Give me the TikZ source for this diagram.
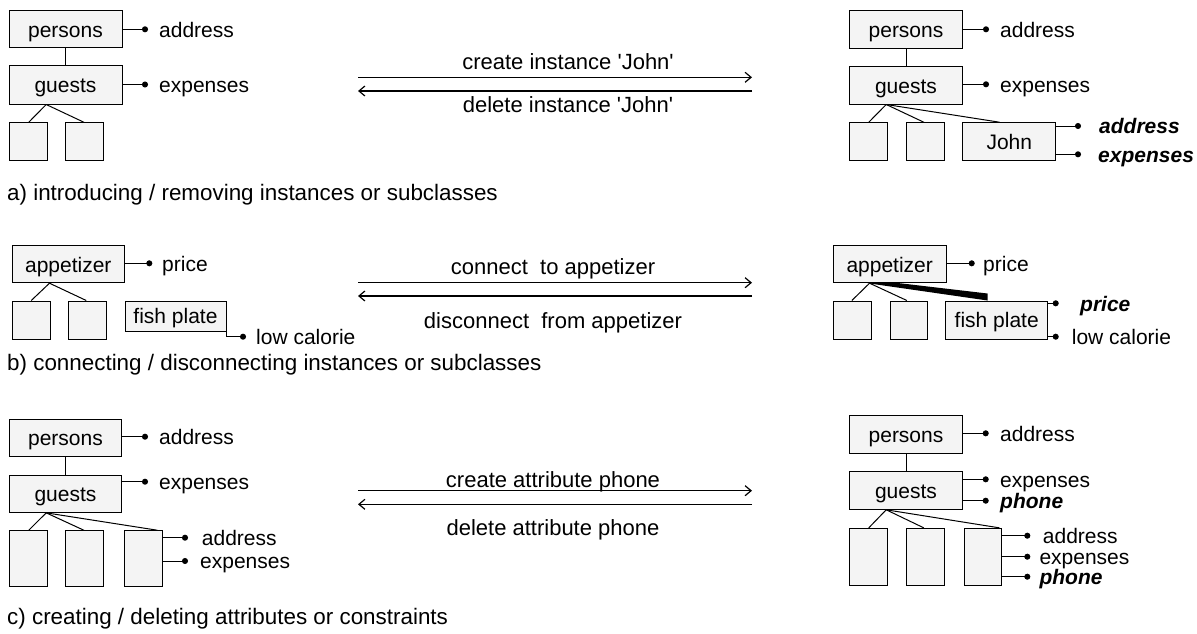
\documentclass[tikz,border=0pt]{standalone}
\usepackage{fontspec}
\setmainfont{Liberation Sans}
\usetikzlibrary{arrows.meta}
\definecolor{boxgray}{RGB}{244,244,244}
\newcommand{\lblfont}{\fontsize{21}{25}\selectfont}
\newcommand{\opfont}{\fontsize{22}{26}\selectfont}
\newcommand{\capfont}{\fontsize{22.4}{27}\selectfont}
\tikzset{
  box/.style={draw, fill=boxgray, line width=1pt, inner sep=0pt,
    text height=18pt, text depth=2.4pt, font=\lblfont},
  lbl/.style={anchor=west, inner sep=0pt, text height=18pt, text depth=2.4pt, font=\lblfont},
  newlbl/.style={lbl, font=\lblfont\bfseries\itshape},
  optext/.style={anchor=mid, inner sep=0pt, font=\opfont},
  captext/.style={anchor=mid west, inner sep=0pt, font=\capfont},
  link/.style={draw, line width=1pt},
  attr/.style={draw, line width=1pt, -{Circle[length=6pt]}},
  op/.style={draw, line width=1.2pt, -{Straight Barb[length=6pt,width=10pt,line width=1.2pt]}},
}
\begin{document}
\lblfont
\begin{tikzpicture}[x=1pt, y=-1pt]
\useasboundingbox (0,0) rectangle (1197,634);

% ---------- a) instances: before ----------
\node[box, minimum width=113pt, minimum height=37pt] (pa1) at (65.5,29.5) {persons};
\node[box, minimum width=113pt, minimum height=38pt] (ga1) at (65.5,85) {guests};
\node[box, minimum width=38pt, minimum height=38pt] (sa1) at (28.3,141.7) {};
\node[box, minimum width=37.6pt, minimum height=38pt] (sa2) at (84.5,141.7) {};
\node[lbl] (la1) at (159,29.3) {address};
\node[lbl] (la2) at (159,84.5) {expenses};
\draw[link] (pa1) -- (ga1);
\draw[link] ([xshift=37.7pt]ga1.south west) -- ([xshift=20pt]sa1.north west);
\draw[link] ([xshift=37.7pt]ga1.south west) -- ([xshift=18.6pt]sa2.north west);
\draw[attr] (pa1.east |- la1.west) -- ([xshift=-11pt]la1.west);
\draw[attr] (ga1.east |- la2.west) -- ([xshift=-11pt]la2.west);

% ---------- a) instances: after ----------
\node[box, minimum width=113.4pt, minimum height=38pt] (pa2) at (906,30) {persons};
\node[box, minimum width=113.4pt, minimum height=37.4pt] (ga2) at (906,85.3) {guests};
\node[box, minimum width=38.4pt, minimum height=38pt] (sb1) at (868.5,141.7) {};
\node[box, minimum width=38pt, minimum height=38pt] (sb2) at (925,141.7) {};
\node[box, minimum width=93.3pt, minimum height=38pt] (john) at (1009.3,141.7) {John};
\node[lbl] (lb1) at (1000,29.3) {address};
\node[lbl] (lb2) at (1000,84.3) {expenses};
\node[newlbl] (lb3) at (1099,126) {address};
\node[newlbl] (lb4) at (1098,154.3) {expenses};
\draw[link] (pa2) -- (ga2);
\draw[link] ([xshift=37.4pt]ga2.south west) -- ([xshift=20pt]sb1.north west);
\draw[link] ([xshift=37.4pt]ga2.south west) -- ([xshift=18.3pt]sb2.north west);
\draw[link] ([xshift=37.4pt]ga2.south west) -- ([xshift=37.3pt]john.north west);
\draw[attr] (pa2.east |- lb1.west) -- ([xshift=-11pt]lb1.west);
\draw[attr] (ga2.east |- lb2.west) -- ([xshift=-11pt]lb2.west);
\draw[attr] (john.east |- lb3.west) -- ([xshift=-18pt]lb3.west);
\draw[attr] (john.east |- lb4.west) -- ([xshift=-17pt]lb4.west);

% ---------- a) operations ----------
\coordinate (a1l) at (358,77.3);  \coordinate (a1r) at (752,77.3);
\coordinate (a2l) at (358,91);    \coordinate (a2r) at (752,91);
\node[optext] (ta1) at (568,63.5) {create instance \textquotesingle John\textquotesingle};
\node[optext] (ta2) at (568,106.5) {delete instance \textquotesingle John\textquotesingle};
\draw[op] (a1l) -- (a1r);
\draw[op] (a2r) -- (a2l);
\node[captext] (capa) at (7,195) {a) introducing / removing instances or subclasses};

% ---------- b) connecting: before ----------
\node[box, minimum width=112pt, minimum height=37pt] (ap1) at (68.3,264.2) {appetizer};
\node[box, minimum width=37.7pt, minimum height=38pt] (sc1) at (31.2,320) {};
\node[box, minimum width=37.7pt, minimum height=38pt] (sc2) at (87.2,320) {};
\node[box, minimum width=101pt, minimum height=30pt] (fp1) at (175.5,316) {fish plate};
\node[lbl] (lc1) at (162,263.3) {price};
\node[lbl] (lc2) at (256,336.7) {low calorie};
\draw[link] ([xshift=37.7pt]ap1.south west) -- ([xshift=19.4pt]sc1.north west);
\draw[link] ([xshift=37.7pt]ap1.south west) -- ([xshift=18.4pt]sc2.north west);
\draw[attr] (ap1.east |- lc1.west) -- ([xshift=-9.7pt]lc1.west);
\draw[attr] (fp1.south east) |- ([xshift=-10pt]lc2.west);

% ---------- b) connecting: after ----------
\node[box, minimum width=112.7pt, minimum height=37pt] (ap2) at (889.7,264.2) {appetizer};
\node[box, minimum width=37.7pt, minimum height=38pt] (sd1) at (852.2,320) {};
\node[box, minimum width=37.3pt, minimum height=38pt] (sd2) at (908.7,320) {};
\node[box, minimum width=102pt, minimum height=38pt] (fp2) at (996.7,320) {fish plate};
\node[lbl] (ld1) at (983,263.3) {price};
\node[newlbl] (ld2) at (1080,303.3) {price};
\node[lbl] (ld3) at (1071.7,336.7) {low calorie};
\draw[link] ([xshift=36.7pt]ap2.south west) -- ([xshift=19pt]sd1.north west);
\draw[link] ([xshift=36.7pt]ap2.south west) -- ([xshift=17.3pt]sd2.north west);
\fill ([xshift=34.7pt]ap2.south west) -- ([xshift=66.7pt]ap2.south west)
   -- ([xshift=42.3pt,yshift=7pt]fp2.north west) -- ([xshift=42.3pt]fp2.north west) -- cycle;
\draw[attr] (ap2.east |- ld1.west) -- ([xshift=-8.3pt]ld1.west);
\draw[attr] (fp2.east |- ld2.west) -- ([xshift=-21.3pt]ld2.west);
\draw[attr] (fp2.east |- ld3.west) -- ([xshift=-13pt]ld3.west);

% ---------- b) operations ----------
\coordinate (b1l) at (358,282.7); \coordinate (b1r) at (752,282.7);
\coordinate (b2l) at (358,296);   \coordinate (b2r) at (752,296);
\node[optext] (tb1) at (553,269) {connect\ \ to appetizer};
\node[optext] (tb2) at (553,323) {disconnect\ \ from appetizer};
\draw[op] (b1l) -- (b1r);
\draw[op] (b2r) -- (b2l);
\node[captext] (capb) at (7,365) {b) connecting / disconnecting instances or subclasses};

% ---------- c) attributes: before ----------
\node[box, minimum width=112.4pt, minimum height=37pt] (pe1) at (65.5,437.5) {persons};
\node[box, minimum width=112.4pt, minimum height=37.3pt] (ge1) at (65.5,493.7) {guests};
\node[box, minimum width=38pt, minimum height=56pt] (se1) at (28.3,558.7) {};
\node[box, minimum width=37.6pt, minimum height=56pt] (se2) at (84.5,558.7) {};
\node[box, minimum width=38pt, minimum height=56pt] (se3) at (143.3,558.7) {};
\node[lbl] (le1) at (159,436.7) {address};
\node[lbl] (le2) at (159,481.7) {expenses};
\node[lbl] (le3) at (201.7,537.7) {address};
\node[lbl] (le4) at (200,561) {expenses};
\draw[link] (pe1) -- (ge1);
\draw[link] ([xshift=37.4pt]ge1.south west) -- ([xshift=20pt]se1.north west);
\draw[link] ([xshift=37.4pt]ge1.south west) -- ([xshift=18.6pt]se2.north west);
\draw[link] ([xshift=37.4pt]ge1.south west) -- ([xshift=33.4pt]se3.north west);
\draw[attr] (pe1.east |- le1.west) -- ([xshift=-11pt]le1.west);
\draw[attr] (ge1.east |- le2.west) -- ([xshift=-11pt]le2.west);
\draw[attr] (se3.east |- le3.west) -- ([xshift=-13.7pt]le3.west);
\draw[attr] (se3.east |- le4.west) -- ([xshift=-12pt]le4.west);

% ---------- c) attributes: after ----------
\node[box, minimum width=113.4pt, minimum height=37.6pt] (pf) at (906,434.5) {persons};
\node[box, minimum width=113.4pt, minimum height=37.6pt] (gf) at (906,490.5) {guests};
\node[box, minimum width=37.7pt, minimum height=56.7pt] (sf1) at (868.8,556.7) {};
\node[box, minimum width=38pt, minimum height=56.7pt] (sf2) at (925,556.7) {};
\node[box, minimum width=36.7pt, minimum height=56.7pt] (sf3) at (983.3,556.7) {};
\node[lbl] (lf1) at (1000,433.3) {address};
\node[lbl] (lf2) at (1000,479.3) {expenses};
\node[newlbl] (lf3) at (1000,500.7) {phone};
\node[lbl] (lf4) at (1042.7,535.7) {address};
\node[lbl] (lf5) at (1039.3,556.7) {expenses};
\node[newlbl] (lf6) at (1039.3,576.7) {phone};
\draw[link] (pf) -- (gf);
\draw[link] ([xshift=37.4pt]gf.south west) -- ([xshift=19.3pt]sf1.north west);
\draw[link] ([xshift=37.4pt]gf.south west) -- ([xshift=18.3pt]sf2.north west);
\draw[link] ([xshift=37.4pt]gf.south west) -- ([xshift=35pt]sf3.north west);
\draw[attr] (pf.east |- lf1.west) -- ([xshift=-11.3pt]lf1.west);
\draw[attr] (gf.east |- lf2.west) -- ([xshift=-11.3pt]lf2.west);
\draw[attr] (gf.east |- lf3.west) -- ([xshift=-11.3pt]lf3.west);
\draw[attr] (sf3.east |- lf4.west) -- ([xshift=-12.4pt]lf4.west);
\draw[attr] (sf3.east |- lf5.west) -- ([xshift=-9pt]lf5.west);
\draw[attr] (sf3.east |- lf6.west) -- ([xshift=-9pt]lf6.west);

% ---------- c) operations ----------
\coordinate (c1l) at (358,490.7); \coordinate (c1r) at (752,490.7);
\coordinate (c2l) at (358,504.3); \coordinate (c2r) at (752,504.3);
\node[optext] (tc1) at (553,482) {create attribute phone};
\node[optext] (tc2) at (553,530) {delete attribute phone};
\draw[op] (c1l) -- (c1r);
\draw[op] (c2r) -- (c2l);
\node[captext] (capc) at (7,619) {c) creating / deleting attributes or constraints};
\end{tikzpicture}
\end{document}
